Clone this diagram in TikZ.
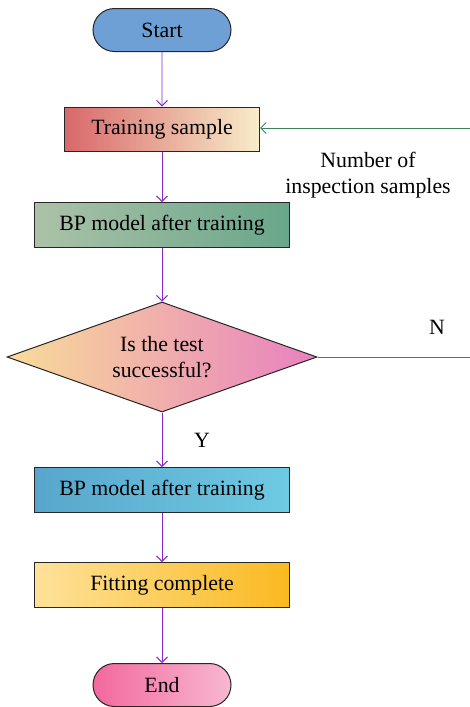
\documentclass[tikz,border=0pt]{standalone}
\usepackage{fontspec}
\setmainfont{Liberation Serif}
\usetikzlibrary{shapes.geometric,shapes.misc,arrows.meta}

\definecolor{startblue}{RGB}{110,160,214}
\definecolor{trainl}{RGB}{216,104,106}
\definecolor{trainr}{RGB}{248,237,202}
\definecolor{bpl}{RGB}{172,194,168}
\definecolor{bpr}{RGB}{104,166,138}
\definecolor{testl}{RGB}{248,220,152}
\definecolor{testm}{RGB}{244,196,196}
\definecolor{testr}{RGB}{232,128,192}
\definecolor{bpbl}{RGB}{88,166,204}
\definecolor{bpbr}{RGB}{110,202,226}
\definecolor{fitl}{RGB}{254,226,154}
\definecolor{fitr}{RGB}{250,185,32}
\definecolor{endl}{RGB}{242,104,158}
\definecolor{endr}{RGB}{248,184,208}
\definecolor{flowviolet}{RGB}{140,40,200}
\definecolor{backgreen}{RGB}{60,130,90}

\tikzset{
  box/.style={draw=black!85, line width=1pt, inner sep=0pt, minimum width=255pt,
    minimum height=45pt, font=\fontsize{21.8}{26}\selectfont, align=center},
  term/.style={box, rounded rectangle, minimum width=138pt, minimum height=43pt},
  flow/.style={draw=flowviolet, line width=0.9pt, -{Straight Barb[length=5.5pt,width=11pt]}},
  backline/.style={draw=backgreen, line width=0.9pt},
  note/.style={font=\fontsize{21.8}{26}\selectfont, align=center}
}

\begin{document}
\begin{tikzpicture}[x=1pt,y=-1pt]
\useasboundingbox (0,0) rectangle (470,707);

%flow nodes
\node [term, fill=startblue] (start) at (162,30) {Start};
\node [box, minimum width=195pt, minimum height=44pt, left color=trainl, right color=trainr] (train) at (162,129) {Training sample};
\node [box, left color=bpl, right color=bpr] (bpa) at (162,225) {BP model after training};
\node [box, diamond, aspect=2.82, minimum width=310pt, minimum height=110pt, left color=testl, middle color=testm, right color=testr] (test) at (162,357) {Is the test\\successful?};
\node [box, left color=bpbl, right color=bpbr] (bpb) at (162,490) {BP model after training};
\node [box, left color=fitl, right color=fitr] (fit) at (162,585) {Fitting complete};
\node [term, left color=endl, right color=endr] (end) at (162,685) {End};

%labels
\node [note] (samples) at (368,175) {Number of\\inspection samples};
\node [note] (yes) at (202,440) {Y};
\node [note] (no) at (437,327) {N};

%edge of the picture
\coordinate (noedge) at (470,357);
\coordinate (backedge) at (470,128);

\draw [flow] (start) -- (train);
\draw [flow] (train) -- (bpa);
\draw [flow] (bpa) -- (test);
\draw [flow] (test) -- (bpb);
\draw [flow] (bpb) -- (fit);
\draw [flow] (fit) -- (end);

\draw [backline] (test.east) -- (noedge);
\draw [backline, -{Straight Barb[length=5.5pt,width=11pt]}] (backedge) -- (train.east |- backedge);

\end{tikzpicture}
\end{document}
